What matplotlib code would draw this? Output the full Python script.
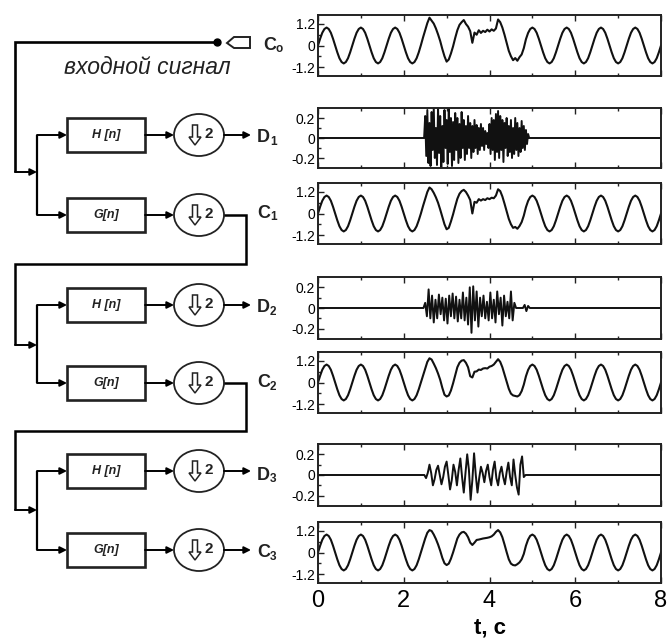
import numpy as np
import matplotlib
matplotlib.use('Agg')
import matplotlib.pyplot as plt
from matplotlib.patches import Rectangle, Ellipse, Polygon

plt.rcParams['font.family'] = ['Liberation Sans', 'DejaVu Sans']

W, H = 669, 643

# one period of the clean input sine, sampled every 0.05 s (period 0.8 s)
t_step = 0.05
sine_period = [0.0, 0.38, 0.71, 0.92, 1.0, 0.92, 0.71, 0.38,
               0.0, -0.38, -0.71, -0.92, -1.0, -0.92, -0.71, -0.38]
n_periods = 10

# disturbed part of the approximations, 2.40 .. 5.00 s, same step
win_start = 2.4
c0_win = [0.02, 0.45, 0.85, 1.25, 1.55, 1.38, 1.22, 0.95, 0.62, 0.25,
          -0.2, -0.6, -0.9, -0.78, -0.45, -0.05, 0.42, 0.85, 1.15, 1.3,
          1.42, 1.2, 1.05, 0.8, 0.15, 0.72, 0.6, 0.85, 0.7, 0.82,
          0.75, 0.88, 0.78, 0.9, 0.82, 0.95, 1.45, 1.3, 1.0, 0.6,
          0.15, -0.3, -0.6, -0.82, -0.7, -0.85, -0.65, -0.5, -0.15, 0.35,
          0.7, 0.92, 1.0]
c1_win = [0.0, 0.42, 0.8, 1.2, 1.45, 1.35, 1.15, 0.9, 0.6, 0.22,
          -0.2, -0.6, -0.88, -0.8, -0.45, -0.05, 0.4, 0.82, 1.1, 1.25,
          1.32, 1.2, 1.0, 0.75, 0.0, 0.65, 0.6, 0.8, 0.72, 0.8,
          0.75, 0.85, 0.8, 0.88, 0.85, 1.0, 1.35, 1.25, 0.95, 0.55,
          0.12, -0.3, -0.6, -0.8, -0.75, -0.85, -0.7, -0.48, -0.12, 0.35,
          0.7, 0.92, 1.0]
c2_win = [0.0, 0.4, 0.78, 1.15, 1.35, 1.28, 1.05, 0.8, 0.5, 0.15,
          -0.3, -0.68, -0.78, -0.72, -0.45, -0.05, 0.4, 0.85, 1.1, 1.22,
          1.25, 1.1, 0.85, 0.35, 0.28, 0.6, 0.62, 0.72, 0.7, 0.78,
          0.8, 0.78, 0.88, 0.92, 1.0, 1.15, 1.3, 1.15, 0.85, 0.45,
          0.05, -0.35, -0.62, -0.72, -0.75, -0.78, -0.7, -0.48, -0.12, 0.35,
          0.7, 0.92, 1.0]
c3_win = [0.0, 0.4, 0.78, 1.1, 1.25, 1.2, 1.0, 0.75, 0.45, 0.1,
          -0.3, -0.6, -0.7, -0.62, -0.35, 0.0, 0.4, 0.78, 1.0, 1.12,
          1.15, 1.05, 0.85, 0.55, 0.42, 0.55, 0.7, 0.72, 0.75, 0.78,
          0.8, 0.82, 0.85, 0.9, 1.0, 1.15, 1.25, 1.12, 0.85, 0.45,
          0.02, -0.38, -0.62, -0.7, -0.72, -0.65, -0.55, -0.38, -0.08, 0.38,
          0.72, 0.93, 1.0]

# detail coefficients (zero outside the burst)
d1_start, d1_step = 2.475, 0.025
d1_burst = [0.0, 0.22, -0.18, 0.28, -0.25, 0.15, -0.28, 0.26, -0.12, 0.3,
            -0.2, 0.1, -0.27, 0.3, -0.15, 0.22, -0.3, 0.12, -0.24, 0.28,
            -0.1, 0.18, -0.26, 0.3, -0.14, 0.2, -0.28, 0.16, -0.22, 0.25,
            -0.12, 0.2, -0.25, 0.14, -0.2, 0.26, -0.1, 0.18, -0.22, 0.12,
            -0.16, 0.22, -0.1, 0.15, -0.2, 0.12, -0.14, 0.18, -0.1, 0.13,
            -0.16, 0.1, -0.12, 0.14, -0.08, 0.1, -0.12, 0.07, -0.06, 0.05,
            -0.1, 0.14, -0.16, 0.2, -0.12, 0.18, -0.22, 0.24, -0.14, 0.27,
            -0.2, 0.22, -0.12, 0.18, -0.24, 0.15, -0.1, 0.2, -0.18, 0.12,
            -0.14, 0.18, -0.2, 0.1, -0.16, 0.2, -0.12, 0.15, -0.18, 0.1,
            -0.14, 0.17, -0.1, 0.12, -0.12, 0.08, -0.06, 0.04, 0.0]
d2_start, d2_step = 2.46, 0.04
d2_burst = [0.0, 0.05, -0.08, 0.18, -0.1, 0.12, -0.14, 0.08, -0.1, 0.13,
            -0.06, 0.1, -0.12, 0.09, -0.15, 0.12, -0.08, 0.14, -0.1, 0.11,
            -0.13, 0.08, -0.1, 0.15, -0.12, 0.1, -0.16, 0.2, -0.24, 0.21,
            -0.12, 0.16, -0.18, 0.1, -0.08, 0.12, -0.1, 0.06, -0.12, 0.15,
            -0.1, 0.08, -0.14, 0.16, -0.06, 0.1, -0.17, 0.12, -0.08, 0.06,
            -0.1, 0.16, -0.12, 0.05, 0.0, 0.0, 0.0, 0.0, 0.0, 0.03,
            -0.03, 0.02, 0.0]
d3_start, d3_step = 2.48, 0.04
d3_burst = [0.0, -0.03, 0.02, 0.1, 0.02, -0.1, -0.04, 0.05, 0.09, 0.0,
            -0.09, -0.02, 0.08, 0.13, 0.0, -0.14, -0.05, 0.1, 0.03, -0.1,
            0.05, 0.16, -0.02, -0.17, 0.02, 0.2, 0.05, -0.24, -0.05, 0.21,
            0.0, -0.17, -0.03, 0.08, 0.02, -0.07, 0.04, 0.1, -0.02, -0.1,
            0.05, 0.13, -0.03, -0.1, 0.02, 0.08, -0.02, -0.09, 0.03, 0.12,
            -0.02, -0.1, 0.15, 0.0, -0.12, -0.19, 0.1, 0.18, -0.02, 0.0]

x_ticks = [0, 2, 4, 6, 8]
c_ticks = [-1.2, 0, 1.2]
c_labels = ['-1.2', '0', '1.2']
d_ticks = [-0.2, 0, 0.2]
d_labels = ['-0.2', '0', '0.2']


def c_series(win):
    y = np.append(np.tile(sine_period, n_periods), sine_period[0])
    i0 = int(round(win_start / t_step))
    y[i0:i0 + len(win)] = win
    return np.arange(len(y)) * t_step, y


def d_series(start, step, burst):
    t = start + np.arange(len(burst)) * step
    return np.r_[0, t, 8], np.r_[0, burst, 0]


fig = plt.figure(figsize=(W / 100, H / 100), dpi=100)

# overlay in pixel coordinates for the filter bank diagram
ax0 = fig.add_axes([0, 0, 1, 1])
ax0.set_xlim(0, W)
ax0.set_ylim(H, 0)
ax0.axis('off')


def line(xs, ys, lw=1.6):
    ax0.plot(xs, ys, color='k', lw=lw, solid_capstyle='butt', solid_joinstyle='miter')


def arrow(x0, y0, x1, y1):
    ax0.annotate('', xy=(x1, y1), xytext=(x0, y0),
                 arrowprops=dict(arrowstyle='-|>', color='k', lw=1.4,
                                 mutation_scale=10, shrinkA=0, shrinkB=0))


def box(cy, text):
    ax0.add_patch(Rectangle((67, cy - 17), 78, 34, fill=False, lw=1.9, ec='#222'))
    ax0.text(106, cy, text, ha='center', va='center', fontsize=9,
             style='italic', fontweight='bold', color='#222')


def down2(cy):
    ax0.add_patch(Ellipse((199, cy), 50, 42, fill=False, lw=1.3, ec='#222'))
    cx = 195
    pts = [(cx - 2.5, cy - 10), (cx + 2.5, cy - 10), (cx + 2.5, cy + 2),
           (cx + 6, cy + 2), (cx, cy + 10), (cx - 6, cy + 2), (cx - 2.5, cy + 2)]
    ax0.add_patch(Polygon(pts, closed=True, fill=False, lw=1.1, ec='#222'))
    ax0.text(209, cy - 1, '2', ha='center', va='center', fontsize=11,
             fontweight='bold', color='#222')


def name(x, cy, main, sub):
    ax0.text(x, cy, main, ha='left', va='center', fontsize=13,
             fontweight='bold', color='#222')
    ax0.text(x + 13, cy + 4, sub, ha='left', va='center', fontsize=8.5,
             fontweight='bold', color='#222')


# input
line([217, 15, 15], [42, 42, 172], lw=1.9)
ax0.plot([217], [42], 'o', color='k', ms=5)
ax0.add_patch(Polygon([(227, 43), (234, 37), (250, 37), (250, 48), (234, 48)],
                      closed=True, fill=False, lw=1.4, ec='#222'))
ax0.text(147, 68, 'входной сигнал', ha='center', va='center', fontsize=16.5,
         style='italic', color='#222')

levels = [(135, 215, 172), (305, 383, 345), (471, 550, 510)]
for k, (yh, yg, yj) in enumerate(levels):
    arrow(15, yj, 37, yj)
    line([37, 37], [yh, yg])
    for yy, txt in ((yh, 'H [n]'), (yg, 'G[n]')):
        arrow(37, yy, 67, yy)
        box(yy, txt)
        arrow(145, yy, 174, yy)
        down2(yy)
    arrow(224, yh, 251, yh)
    if k < 2:
        yn = levels[k + 1][2]
        ytop = (yg + levels[k + 1][0]) / 2 + 4
        line([224, 246, 246, 15, 15], [yg, yg, ytop, ytop, yn], lw=1.8)
    else:
        arrow(224, yg, 251, yg)

# signal panels: pixel top, bottom, series, name
rows = [
    (15, 76, c_series(c0_win), 'C', 'o'),
    (108, 168, d_series(d1_start, d1_step, d1_burst), 'D', '1'),
    (183, 244, c_series(c1_win), 'C', '1'),
    (277, 339, d_series(d2_start, d2_step, d2_burst), 'D', '2'),
    (352, 413, c_series(c2_win), 'C', '2'),
    (444, 506, d_series(d3_start, d3_step, d3_burst), 'D', '3'),
    (522, 583, c_series(c3_win), 'C', '3'),
]

for i, (top, bot, (t, y), main, sub) in enumerate(rows):
    ax = fig.add_axes([318 / W, 1 - bot / H, 343 / W, (bot - top) / H])
    is_d = main == 'D'
    ax.plot(t, y, color='#111', lw=1.4 if is_d else 1.5)
    ax.set_xlim(0, 8)
    if is_d:
        ax.set_ylim(-0.3, 0.3)
        ax.set_yticks(d_ticks)
        ax.set_yticklabels(d_labels)
        ax.set_yticks([-0.1, 0.1], minor=True)
    else:
        ax.set_ylim(-1.7, 1.7)
        ax.set_yticks(c_ticks)
        ax.set_yticklabels(c_labels)
        ax.set_yticks([-0.6, 0.6], minor=True)
    ax.set_xticks(x_ticks)
    ax.set_xticks([1, 3, 5, 7], minor=True)
    ax.tick_params(which='both', direction='in', top=True, width=1, color='#222')
    ax.tick_params(which='major', length=4)
    ax.tick_params(which='minor', length=2.5)
    ax.tick_params(axis='y', labelsize=10, pad=2)
    for s in ax.spines.values():
        s.set_linewidth(1.4)
        s.set_color('#222')
    if i == len(rows) - 1:
        ax.tick_params(axis='x', labelsize=17, pad=5)
        ax.set_xticklabels([str(v) for v in x_ticks])
        ax.set_xlabel('t, c', fontsize=16, fontweight='bold', labelpad=4)
    else:
        ax.tick_params(axis='x', labelbottom=False)
    name(263 if i == 0 else 257, (top + bot) / 2, main, sub)

fig.savefig('out.png', dpi=100)
